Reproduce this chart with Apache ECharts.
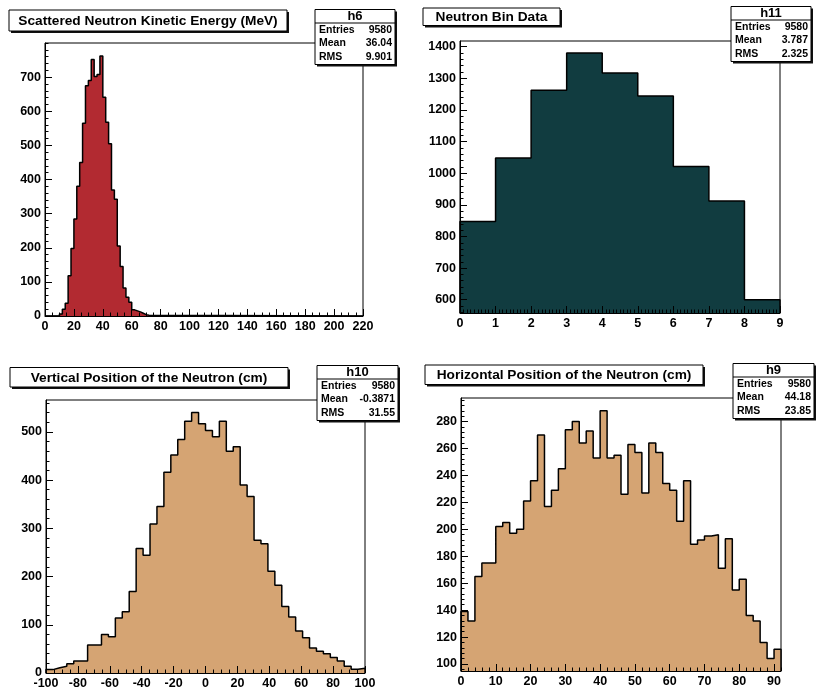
<!DOCTYPE html>
<html>
<head>
<meta charset="utf-8">
<script src="https://cdn.jsdelivr.net/npm/echarts@6/dist/echarts.min.js"></script>
<style>
html, body { margin: 0; padding: 0; background: #fff; }
#main { width: 817px; height: 700px; }
</style>
</head>
<body>
<div id="main"></div>
<script>
// h6 — scattered neutron kinetic energy, 2 MeV bins (non-empty bins start at 10 MeV)
const energyStart = 10;
const energyWidth = 2;
const energyCounts = [6, 20, 37, 118, 198, 284, 380, 450, 565, 675, 690, 752, 702, 708, 762,
                      641, 568, 505, 369, 342, 205, 145, 82, 55, 40, 18, 15, 12, 8, 4, 2];
const energyTicks = [0, 20, 40, 60, 80, 100, 120, 140, 160, 180, 200, 220];
const energyCountTicks = [0, 100, 200, 300, 400, 500, 600, 700];
const statsH6 = ['h6', '9580', '36.04', '9.901'];

// h11 — neutron bin data, unit bins 0..9
const binStart = 0;
const binWidth = 1;
const binCounts = [847, 1048, 1262, 1380, 1317, 1244, 1021, 912, 600];
const binTicks = [0, 1, 2, 3, 4, 5, 6, 7, 8, 9];
const binCountTicks = [600, 700, 800, 900, 1000, 1100, 1200, 1300, 1400];
const statsH11 = ['h11', '9580', '3.787', '2.325'];

// h10 — vertical position, 46 bins across -100..100 cm
const vertStart = -100;
const vertWidth = 200 / 46;
const vertCounts = [7, 11, 14, 19, 25, 25, 58, 58, 80, 75, 114, 127, 169, 258, 244, 309, 345, 416,
                    452, 484, 522, 540, 517, 503, 490, 522, 460, 469, 390, 366, 275, 268, 211, 182,
                    138, 116, 87, 73, 52, 45, 40, 32, 25, 14, 8, 10];
const vertTicks = [-100, -80, -60, -40, -20, 0, 20, 40, 60, 80, 100];
const vertCountTicks = [0, 100, 200, 300, 400, 500];
const statsH10 = ['h10', '9580', '-0.3871', '31.55'];

// h9 — horizontal position, 2 cm bins from 0
const horizStart = 0;
const horizWidth = 2;
const horizCounts = [139, 132, 165, 175, 175, 202, 205, 197, 200, 221, 236, 270, 217, 229, 245, 274,
                     280, 264, 273, 253, 288, 253, 255, 226, 263, 257, 227, 264, 257, 234, 229, 206,
                     236, 189, 192, 195, 196, 171, 193, 155, 163, 136, 132, 116, 104, 111];
const horizTicks = [0, 10, 20, 30, 40, 50, 60, 70, 80, 90];
const horizCountTicks = [100, 120, 140, 160, 180, 200, 220, 240, 260, 280];
const statsH9 = ['h9', '9580', '44.18', '23.85'];

const FONT = "'Liberation Sans', Arial, Helvetica, sans-serif";

// Outline of a histogram as step points (including the drop to the baseline at both ends)
function stepPoints(start, width, counts, lo, hi, base) {
  const pts = [];
  if (start > lo) pts.push([lo, base]);
  pts.push([start, base]);
  counts.forEach((c, i) => pts.push([start + i * width, c]));
  const end = start + counts.length * width;
  pts.push([end, counts[counts.length - 1]]);
  pts.push([end, base]);
  if (end < hi) pts.push([hi, base]);
  return pts;
}

function minorValues(min, max, step) {
  const out = [];
  for (let v = Math.ceil(min / step - 1e-9) * step; v <= max + 1e-9; v += step) {
    out.push(Math.round(v * 1000) / 1000);
  }
  return out;
}

const panels = [
  { grid: { left: 45, top: 43, width: 318, height: 273 },
    x: { min: 0, max: 220, labels: energyTicks, minor: 5 },
    y: { min: 0, max: 800, labels: energyCountTicks, minor: 20 },
    pts: stepPoints(energyStart, energyWidth, energyCounts, 0, 220, 0), fill: '#b22a31' },
  { grid: { left: 460, top: 41, width: 320, height: 272 },
    x: { min: 0, max: 9, labels: binTicks, minor: 0.1 },
    y: { min: 558, max: 1418, labels: binCountTicks, minor: 20 },
    pts: stepPoints(binStart, binWidth, binCounts, 0, 9, 558), fill: '#113c40' },
  { grid: { left: 46, top: 400, width: 319, height: 273 },
    x: { min: -100, max: 100, labels: vertTicks, minor: 5 },
    y: { min: 0, max: 566, labels: vertCountTicks, minor: 20 },
    pts: stepPoints(vertStart, vertWidth, vertCounts, -100, 100, 0), fill: '#d5a473' },
  { grid: { left: 461, top: 398, width: 320, height: 273 },
    x: { min: 0, max: 92, labels: horizTicks, minor: 2 },
    y: { min: 94.8, max: 297.5, labels: horizCountTicks, minor: 4 },
    pts: stepPoints(horizStart, horizWidth, horizCounts, 0, 92, 94.8), fill: '#d5a473' }
];

const labelStyle = { color: '#000', fontWeight: 'bold', fontSize: 12.5, fontFamily: FONT,
                     formatter: v => String(v) };

function axisPair(gridIndex, a, pos) {
  const major = {
    type: 'value', gridIndex, min: a.min, max: a.max, position: pos, z: 5,
    axisLine: { show: true, onZero: false, lineStyle: { color: '#000', width: 1 } },
    axisTick: { show: true, inside: true, length: 7, customValues: a.labels, lineStyle: { color: '#000', width: 1 } },
    axisLabel: Object.assign({ customValues: a.labels, margin: 4 }, labelStyle),
    splitLine: { show: false }
  };
  const minor = {
    type: 'value', gridIndex, min: a.min, max: a.max, position: pos, z: 5,
    axisLine: { show: false, onZero: false },
    axisTick: { show: true, inside: true, length: 3.5, customValues: minorValues(a.min, a.max, a.minor),
                lineStyle: { color: '#000', width: 1 } },
    axisLabel: { show: false },
    splitLine: { show: false }
  };
  return [major, minor];
}

const grids = [], xAxes = [], yAxes = [], series = [];
panels.forEach((p, i) => {
  grids.push(Object.assign({ show: true, borderColor: '#000', borderWidth: 1, backgroundColor: '#fff' }, p.grid));
  xAxes.push(...axisPair(i, p.x, 'bottom'));
  yAxes.push(...axisPair(i, p.y, 'left'));
  series.push({
    type: 'line', xAxisIndex: 2 * i, yAxisIndex: 2 * i, data: p.pts, step: 'end',
    showSymbol: false, symbol: 'none', z: 3,
    lineStyle: { color: '#000', width: 1.5 },
    areaStyle: { color: p.fill, opacity: 1, origin: 'start' }
  });
});

// ROOT-style boxes with a drop shadow
function titleBox(x, y, w, h, text) {
  return { type: 'group', z: 100, children: [
    { type: 'rect', shape: { x: x + 2, y: y + 2, width: w, height: h }, style: { fill: '#111' } },
    { type: 'rect', shape: { x: x, y: y, width: w, height: h }, style: { fill: '#fff', stroke: '#000', lineWidth: 1 } },
    { type: 'text', style: { x: x + w / 2, y: y + h / 2 + 0.5, text: text, align: 'center', verticalAlign: 'middle',
      font: 'bold 13.7px ' + FONT, fill: '#000' } }
  ] };
}

function statsBox(x, y, w, stats) {
  const h = 55;
  const names = ['Entries', 'Mean', 'RMS'];
  const children = [
    { type: 'rect', shape: { x: x + 2, y: y + 2, width: w, height: h }, style: { fill: '#111' } },
    { type: 'rect', shape: { x: x, y: y, width: w, height: h }, style: { fill: '#fff', stroke: '#000', lineWidth: 1 } },
    { type: 'line', shape: { x1: x, y1: y + 13.5, x2: x + w, y2: y + 13.5 }, style: { stroke: '#000', lineWidth: 1 } },
    { type: 'text', style: { x: x + w / 2, y: y + 7, text: stats[0], align: 'center', verticalAlign: 'middle',
      font: 'bold 13px ' + FONT, fill: '#000' } }
  ];
  names.forEach((n, i) => {
    const ty = y + 20.5 + 13.5 * i;
    children.push({ type: 'text', style: { x: x + 4, y: ty, text: n, align: 'left', verticalAlign: 'middle',
      font: 'bold 10.5px ' + FONT, fill: '#000' } });
    children.push({ type: 'text', style: { x: x + w - 3, y: ty, text: stats[i + 1], align: 'right', verticalAlign: 'middle',
      font: 'bold 10.5px ' + FONT, fill: '#000' } });
  });
  return { type: 'group', z: 100, children };
}

const chart = echarts.init(document.getElementById('main'), null, { renderer: 'canvas' });
chart.setOption({
  backgroundColor: '#fff',
  animation: false,
  grid: grids,
  xAxis: xAxes,
  yAxis: yAxes,
  series: series,
  graphic: [
    titleBox(9, 10, 278, 21, 'Scattered Neutron Kinetic Energy (MeV)'),
    statsBox(315, 9.5, 80, statsH6),
    titleBox(423, 8, 137, 17.5, 'Neutron Bin Data'),
    statsBox(731, 6.5, 80, statsH11),
    titleBox(10, 367.5, 278, 19.5, 'Vertical Position of the Neutron (cm)'),
    statsBox(317, 365.5, 81, statsH10),
    titleBox(425, 365, 278, 19.5, 'Horizontal Position of the Neutron (cm)'),
    statsBox(733, 363.5, 81, statsH9)
  ]
});
</script>
</body>
</html>
